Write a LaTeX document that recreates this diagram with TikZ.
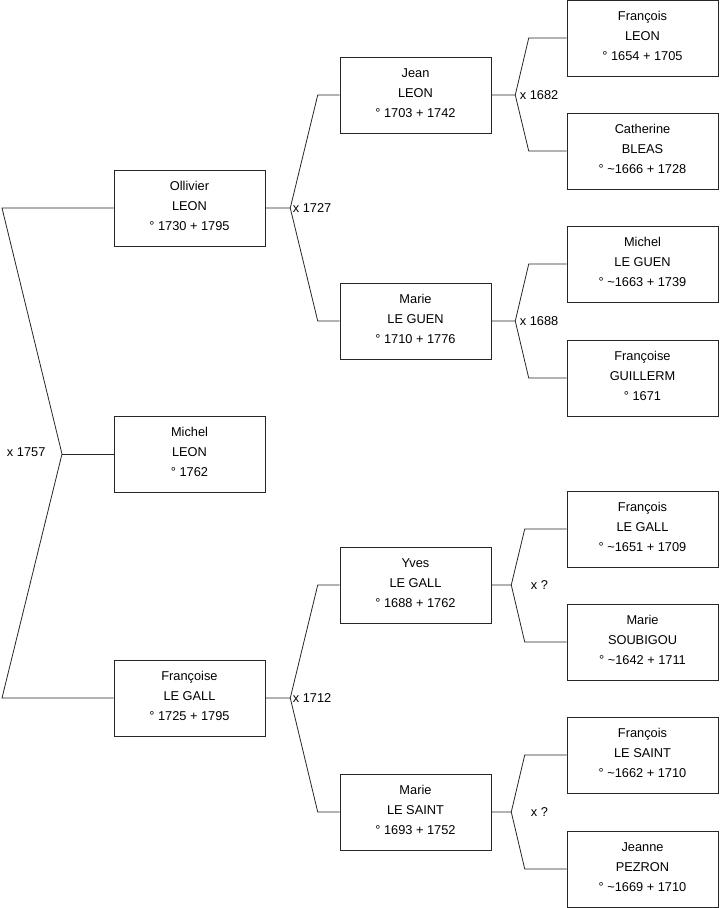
\documentclass[tikz,border=0pt]{standalone}
\usepackage{fontspec}
\setmainfont{Liberation Sans}
\usetikzlibrary{positioning,calc}

\begin{document}
\begin{tikzpicture}[
    x=0.75pt, y=-0.75pt,
    person/.style={rectangle, draw=black!85, minimum width=113.25pt, minimum height=57pt,
                   inner sep=1pt, text depth=3pt, align=center, font=\fontsize{9.6}{15}\selectfont},
    link/.style={draw=black!85, line width=0.6pt},
    wedding/.style={anchor=west, inner sep=1pt, font=\fontsize{9.6}{11}\selectfont}
  ]
    \useasboundingbox (0,0) rectangle (719,908);

    % generation 1
    \node[person] (oleon) at (189.5,208) {Ollivier\\LEON\\° 1730 + 1795};
    \node[person] (mleon) at (189.5,454) {Michel\\LEON\\° 1762};
    \node[person] (flegall) at (189.5,698) {Françoise\\LE GALL\\° 1725 + 1795};

    % generation 2
    \node[person] (jleon) at (415.5,95) {Jean\\LEON\\° 1703 + 1742};
    \node[person] (mleguen) at (415.5,321) {Marie\\LE GUEN\\° 1710 + 1776};
    \node[person] (ygall) at (415.5,585) {Yves\\LE GALL\\° 1688 + 1762};
    \node[person] (mlesaint) at (415.5,812) {Marie\\LE SAINT\\° 1693 + 1752};

    % generation 3
    \node[person] (fleon) at (642.5,38) {François\\LEON\\° 1654 + 1705};
    \node[person] (cbleas) at (642.5,151) {Catherine\\BLEAS\\° \textasciitilde1666 + 1728};
    \node[person] (mguen) at (642.5,264) {Michel\\LE GUEN\\° \textasciitilde1663 + 1739};
    \node[person] (fguillerm) at (642.5,378) {Françoise\\GUILLERM\\° 1671};
    \node[person] (fgall) at (642.5,529) {François\\LE GALL\\° \textasciitilde1651 + 1709};
    \node[person] (msoubigou) at (642.5,642) {Marie\\SOUBIGOU\\° \textasciitilde1642 + 1711};
    \node[person] (fsaint) at (642.5,755) {François\\LE SAINT\\° \textasciitilde1662 + 1710};
    \node[person] (jpezron) at (642.5,869) {Jeanne\\PEZRON\\° \textasciitilde1669 + 1710};

    % root
    \coordinate (ra) at (2,208);
    \coordinate (rm) at (62,454);
    \coordinate (rb) at (2,698);
    \draw[link] (oleon.west) -- (ra) -- (rm) -- (rb) -- (flegall.west);
    \draw[link] (rm) -- (mleon.west);
    \node[anchor=east, inner sep=1pt, font=\fontsize{9.6}{11}\selectfont] at ($(rm)+(-15,-2)$) {x 1757};

    % parents
    \foreach \c/\f/\m/\dx/\bx/\lx/\lbl in {
        oleon/jleon/mleguen/25/22/1/x 1727,
        flegall/ygall/mlesaint/25/22/1/x 1712,
        jleon/fleon/cbleas/24/38/3/x 1682,
        mleguen/mguen/fguillerm/24/38/3/x 1688,
        ygall/fgall/msoubigou/20/42/18/x ?,
        mlesaint/fsaint/jpezron/20/42/18/x ?} {
      \draw[link] (\c.east) -- ++(\dx,0) coordinate (mid) -- ($(\f.west)+(-\bx,0)$) -- (\f.west);
      \draw[link] (mid) -- ($(\m.west)+(-\bx,0)$) -- (\m.west);
      \node[wedding] at ($(mid)+(\lx,0)$) {\lbl};
    }
\end{tikzpicture}
\end{document}
